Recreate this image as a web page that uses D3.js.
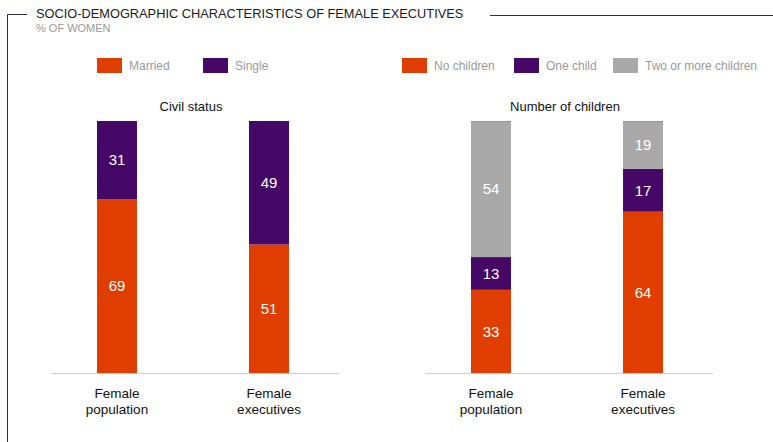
<!DOCTYPE html>
<html>
<head>
<meta charset="utf-8">
<script src="https://cdnjs.cloudflare.com/ajax/libs/d3/7.8.5/d3.min.js"></script>
<style>
	body { margin: 0; background: #fff; }
	svg { display: block; font-family: "Liberation Sans", Arial, sans-serif; }
</style>
</head>
<body>
<div id="chart"></div>
<script>
var categories = ["Female population", "Female executives"];
var categoryLines = [["Female", "population"], ["Female", "executives"]];

var civilKeys = ["Married", "Single"];
var civilMarried = [69, 51];
var civilSingle = [31, 49];

var childKeys = ["No children", "One child", "Two or more children"];
var childNone = [33, 64];
var childOne = [13, 17];
var childTwoPlus = [54, 19];

var svgWidth = 773;
var svgHeight = 442;

var svg = d3.select("#chart")
	.append("svg")
	.attr("width", svgWidth)
	.attr("height", svgHeight);

// frame + title
var frame = "#2b2e4a";
svg.append("path")
	.attr("d", "M7.5,442 V14.5 H27")
	.attr("fill", "none")
	.attr("stroke", frame)
	.attr("stroke-width", 1);
svg.append("line")
	.attr("x1", 490).attr("x2", 773)
	.attr("y1", 15.5).attr("y2", 15.5)
	.attr("stroke", frame)
	.attr("stroke-width", 1);
svg.append("text")
	.attr("x", 36).attr("y", 18)
	.attr("font-size", "12.8px")
	.attr("fill", "#1a1a1a")
	.text("SOCIO-DEMOGRAPHIC CHARACTERISTICS OF FEMALE EXECUTIVES");
svg.append("text")
	.attr("x", 36).attr("y", 32)
	.attr("font-size", "11px")
	.attr("fill", "#999")
	.text("% OF WOMEN");

var colors = ["#e03d00", "#460866", "#a9a9a9"];

function stackedChart(config, data) {
	var keys = config.keys;
	var width = 288;
	var baseY = 373, topY = 121;

	var g = svg.append("g")
		.attr("transform", "translate(" + config.left + ",0)");

	var xScale = d3.scaleBand()
		.domain(categories)
		.range([46, 238])
		.paddingInner(0.737)
		.paddingOuter(0);

	var yScale = d3.scaleLinear()
		.domain([0, 100])
		.range([baseY, topY]);

	var Color = d3.scaleOrdinal()
		.domain(keys)
		.range(colors);

	var series = d3.stack().keys(keys)(data);

	var gSeries = g.selectAll(".series")
		.data(series)
		.enter().append("g")
		.attr("class", "series")
		.attr("fill", function(d) { return Color(d.key); });

	gSeries.selectAll("rect")
		.data(function(d) { return d; })
		.enter().append("rect")
		.attr("x", function(d) { return xScale(d.data.cat); })
		.attr("y", function(d) { return yScale(d[1]); })
		.attr("width", xScale.bandwidth())
		.attr("height", function(d) { return yScale(d[0]) - yScale(d[1]); });

	gSeries.selectAll("text")
		.data(function(d) { return d; })
		.enter().append("text")
		.attr("x", function(d) { return xScale(d.data.cat) + xScale.bandwidth() / 2; })
		.attr("y", function(d) { return (yScale(d[0]) + yScale(d[1])) / 2; })
		.attr("dy", "0.36em")
		.attr("text-anchor", "middle")
		.attr("font-size", "15px")
		.attr("fill", "#fff")
		.text(function(d) { return d[1] - d[0]; });

	// thin darker cap on top segment
	g.selectAll(".cap")
		.data(data)
		.enter().append("rect")
		.attr("class", "cap")
		.attr("x", function(d) { return xScale(d.cat); })
		.attr("y", topY)
		.attr("width", xScale.bandwidth())
		.attr("height", 1)
		.attr("fill", config.capColor)
		.attr("opacity", 0.6);

	// baseline
	g.append("line")
		.attr("x1", 0).attr("x2", width)
		.attr("y1", baseY + 0.5).attr("y2", baseY + 0.5)
		.attr("stroke", "#cfcfcf")
		.attr("stroke-width", 1.2);

	// category labels
	var xLab = g.selectAll(".xlab")
		.data(categories)
		.enter().append("text")
		.attr("class", "xlab")
		.attr("text-anchor", "middle")
		.attr("font-size", "13.5px")
		.attr("fill", "#111")
		.attr("transform", function(d) { return "translate(" + (xScale(d) + xScale.bandwidth() / 2) + ",398)"; });
	xLab.selectAll("tspan")
		.data(function(d, i) { return categoryLines[i]; })
		.enter().append("tspan")
		.attr("x", 0)
		.attr("dy", function(d, i) { return i ? 16 : 0; })
		.text(function(d) { return d; });

	// chart subtitle
	g.append("text")
		.attr("x", (xScale.range()[0] + xScale.range()[1]) / 2 - 2)
		.attr("y", 111)
		.attr("text-anchor", "middle")
		.attr("font-size", "13px")
		.attr("fill", "#111")
		.text(config.title);

	// legend
	var legend = svg.selectAll(".legend-" + config.id)
		.data(keys)
		.enter().append("g")
		.attr("class", "legend-" + config.id)
		.attr("transform", function(d, i) { return "translate(" + (config.legendX + config.legendOffsets[i]) + ",58)"; });
	legend.append("rect")
		.attr("width", 25)
		.attr("height", 15)
		.attr("fill", Color);
	legend.append("text")
		.attr("x", 32)
		.attr("y", 7.5)
		.attr("dy", "0.36em")
		.attr("font-size", "12px")
		.attr("fill", "#9a9a9a")
		.text(function(d) { return d; });
}

var civilData = categories.map(function(c, i) {
	return { cat: c, "Married": civilMarried[i], "Single": civilSingle[i] };
});
var childData = categories.map(function(c, i) {
	return { cat: c, "No children": childNone[i], "One child": childOne[i], "Two or more children": childTwoPlus[i] };
});

stackedChart({ id: "civil", left: 51, keys: civilKeys, title: "Civil status",
	legendX: 97, legendOffsets: [0, 106], capColor: "#460866" }, civilData);
stackedChart({ id: "child", left: 425, keys: childKeys, title: "Number of children",
	legendX: 402, legendOffsets: [0, 112, 211], capColor: "#888" }, childData);
</script>
</body>
</html>
